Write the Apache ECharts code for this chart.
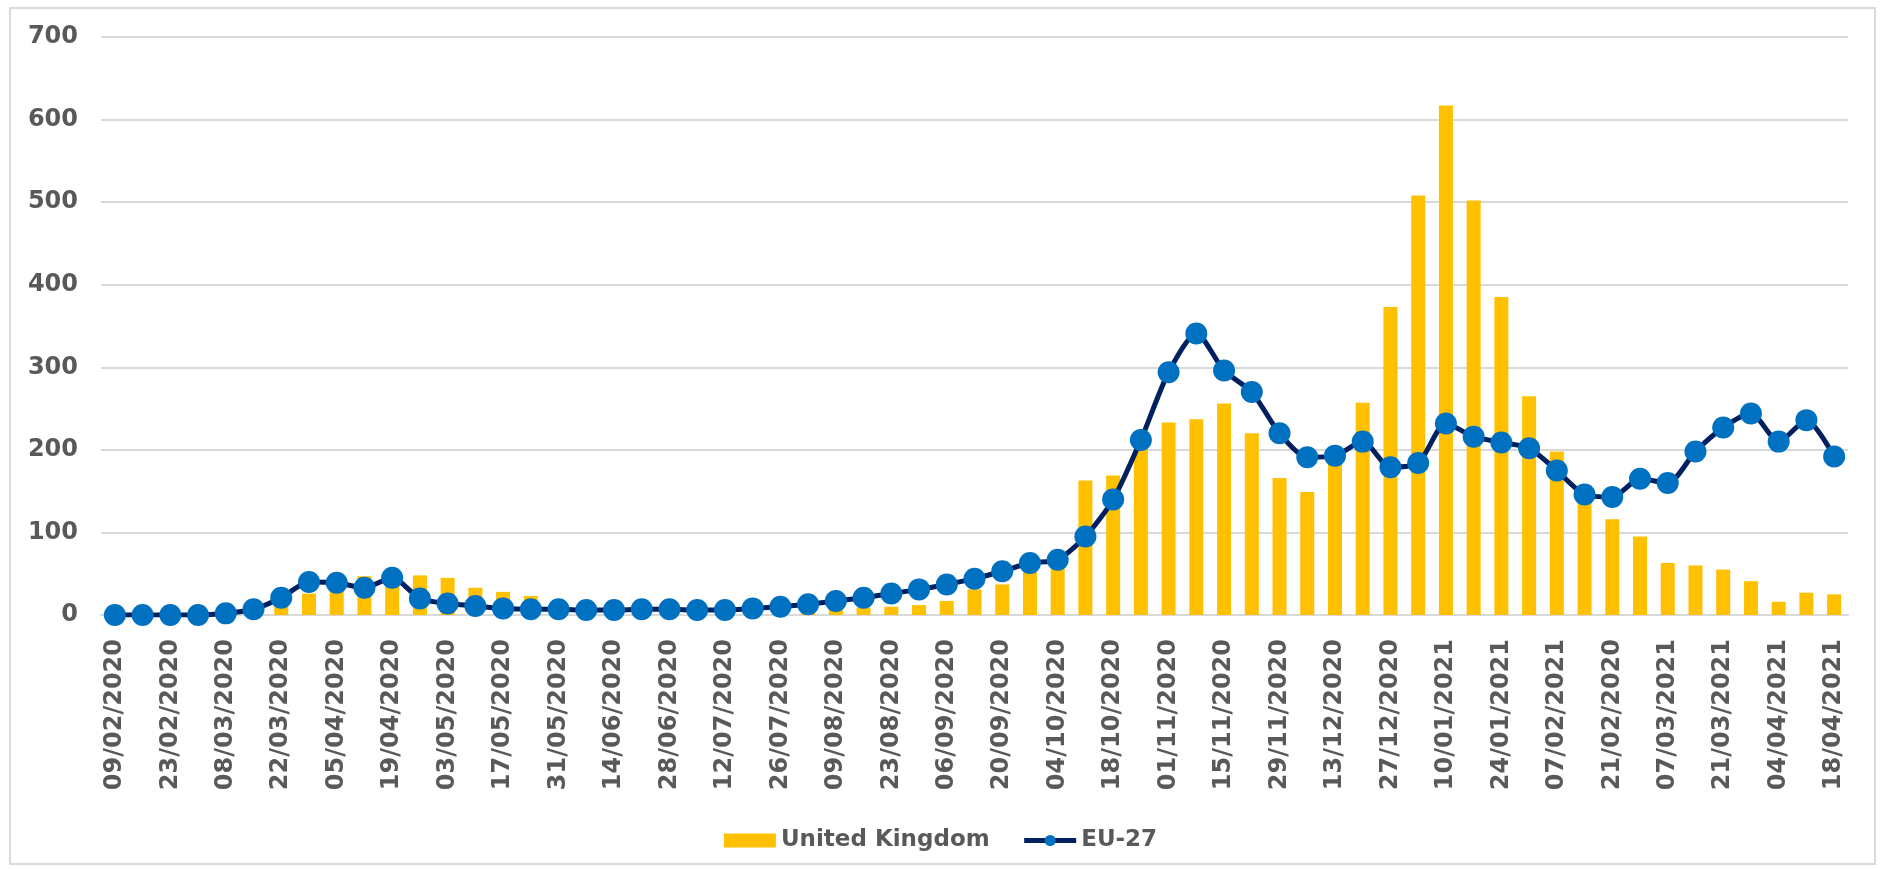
<!DOCTYPE html>
<html>
<head>
<meta charset="utf-8">
<script src="https://cdn.jsdelivr.net/npm/echarts@6/dist/echarts.min.js"></script>
<style>
  html, body { margin: 0; padding: 0; background: #ffffff; }
  #frame { position: absolute; left: 9px; top: 7px; width: 1867px; height: 858px; border: 2px solid #D9D9D9; box-sizing: border-box; }
  #chart { position: absolute; left: 0; top: 0; width: 1881px; height: 870px; }
</style>
</head>
<body>
<div id="frame"></div>
<div id="chart"></div>
<script>
const categories = [
  "09/02/2020","16/02/2020","23/02/2020","01/03/2020","08/03/2020","15/03/2020","22/03/2020","29/03/2020",
  "05/04/2020","12/04/2020","19/04/2020","26/04/2020","03/05/2020","10/05/2020","17/05/2020","24/05/2020",
  "31/05/2020","07/06/2020","14/06/2020","21/06/2020","28/06/2020","05/07/2020","12/07/2020","19/07/2020",
  "26/07/2020","02/08/2020","09/08/2020","16/08/2020","23/08/2020","30/08/2020","06/09/2020","13/09/2020",
  "20/09/2020","27/09/2020","04/10/2020","11/10/2020","18/10/2020","25/10/2020","01/11/2020","08/11/2020",
  "15/11/2020","22/11/2020","29/11/2020","06/12/2020","13/12/2020","20/12/2020","27/12/2020","03/01/2021",
  "10/01/2021","17/01/2021","24/01/2021","31/01/2021","07/02/2021","14/02/2021","21/02/2020","28/02/2021",
  "07/03/2021","14/03/2021","21/03/2021","28/03/2021","04/04/2021","11/04/2021","18/04/2021"
];
const ukValues = [
  0,0,0,0,0,2,13,26,38,47,46,48,45,33,28,23,
  12,8,6,5,4,3,3,4,5,6,7,9,10,12,17,31,
  37,57,62,163,169,202,233,237,256,220,166,149,190,257,373,508,
  617,502,385,265,198,142,116,95,63,60,55,41,16,27,25
];
const euValues = [
  0,0,0,0,2,7,21,40,39,33,45,20,14,11,8,7,
  7,6,6,7,7,6,6,8,10,13,17,21,26,31,37,44,
  53,63,67,95,140,212,294,341,296,270,220,191,193,210,179,184,
  232,216,209,202,175,146,143,165,160,198,227,244,210,236,192
];
const yTicks = { min: 0, max: 700, interval: 100 };
const seriesNames = ["United Kingdom", "EU-27"];

const FONT = "'DejaVu Sans', Verdana, sans-serif";
const TXT = "#595959";

const chart = echarts.init(document.getElementById('chart'), null, { renderer: 'canvas' });
chart.setOption({
  backgroundColor: 'transparent',
  animation: false,
  grid: { left: 101, right: 33, top: 37, bottom: 255, containLabel: false },
  legend: {
    data: [
      { name: seriesNames[0], icon: 'rect', itemStyle: { color: '#FFC000' } },
      { name: seriesNames[1], itemStyle: { color: '#0070C0' }, lineStyle: { color: '#002060', width: 5 } }
    ],
    left: 'center',
    top: 824,
    itemWidth: 52,
    itemHeight: 14,
    itemGap: 32,
    textStyle: { fontFamily: FONT, fontSize: 23, fontWeight: 'bold', color: TXT }
  },
  xAxis: {
    type: 'category',
    data: categories,
    boundaryGap: true,
    axisLine: { show: true, lineStyle: { color: '#D9D9D9', width: 2 } },
    axisTick: { show: false },
    axisLabel: {
      interval: 1,
      rotate: 90,
      margin: 24,
      fontFamily: FONT,
      fontSize: 24,
      fontWeight: 'bold',
      color: TXT
    },
    splitLine: { show: false }
  },
  yAxis: {
    type: 'value',
    min: yTicks.min,
    max: yTicks.max,
    interval: yTicks.interval,
    axisLine: { show: false },
    axisTick: { show: false },
    axisLabel: { margin: 23, fontFamily: FONT, fontSize: 24, fontWeight: 'bold', color: TXT },
    splitLine: { show: true, lineStyle: { color: '#D9D9D9', width: 2 } }
  },
  series: [
    {
      name: seriesNames[0],
      type: 'bar',
      data: ukValues,
      barWidth: 14,
      itemStyle: { color: '#FFC000' },
      z: 1
    },
    {
      name: seriesNames[1],
      type: 'line',
      data: euValues,
      smooth: 0.25,
      symbol: 'circle',
      symbolSize: 22,
      showSymbol: true,
      showAllSymbol: true,
      itemStyle: { color: '#0070C0', borderWidth: 0 },
      lineStyle: { color: '#002060', width: 5 },
      z: 3
    }
  ]
});
</script>
</body>
</html>
